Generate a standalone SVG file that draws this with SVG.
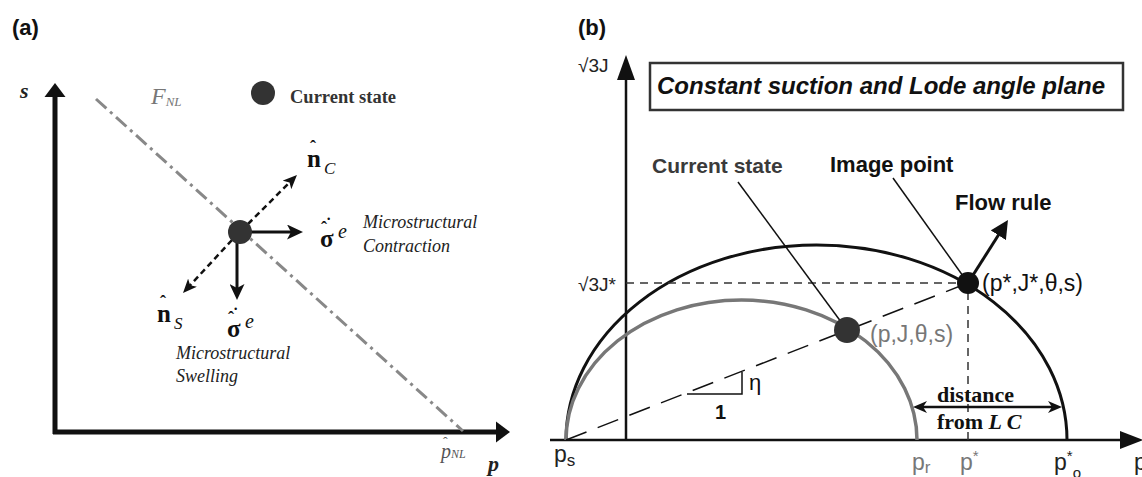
<svg xmlns="http://www.w3.org/2000/svg" width="1142" height="477" viewBox="0 0 1142 477">
<style>
.serif{font-family:"Liberation Serif","Times New Roman",serif}
.sans{font-family:"Liberation Sans",Arial,sans-serif}
.title{font-family:"Liberation Sans",Arial,sans-serif;font-weight:bold;font-size:22px;fill:#111}
.ital{font-style:italic}
.bold{font-weight:bold}
.lead{stroke:#111;stroke-width:1.5;fill:none}
</style>
<defs>
<marker id="mA" markerUnits="userSpaceOnUse" markerWidth="16" markerHeight="15" refX="6" refY="7.5" orient="auto"><path d="M0,0 L16,7.5 L0,15 L4,7.5 z" fill="#111"/></marker>
<marker id="mD" markerUnits="userSpaceOnUse" markerWidth="14" markerHeight="12" refX="5" refY="6" orient="auto"><path d="M0,0 L14,6 L0,12 L3.5,6 z" fill="#111"/></marker>
<marker id="mB" markerUnits="userSpaceOnUse" markerWidth="14" markerHeight="12" refX="6" refY="6" orient="auto-start-reverse"><path d="M0,0 L14,6 L0,12 L4,6 z" fill="#111"/></marker>
<marker id="mF" markerUnits="userSpaceOnUse" markerWidth="18" markerHeight="18" refX="8" refY="9" orient="auto"><path d="M0,0 L18,9 L0,18 z" fill="#111"/></marker>
</defs>
<rect width="1142" height="477" fill="#fff"/>

<!-- Panel (a) -->
<text class="title" x="12" y="35">(a)</text>
<g id="a-axes">
<line x1="55" y1="434" x2="55" y2="96" stroke="#111" stroke-width="5"/>
<polygon points="55,83 44.5,97 65.5,97" fill="#111"/>
<line x1="53" y1="432" x2="497" y2="432" stroke="#111" stroke-width="5"/>
<polygon points="510,432 496,421.5 496,442.5" fill="#111"/>
<text class="serif ital bold" x="20" y="98" font-size="22" fill="#222">s</text>
<text class="serif ital bold" x="488" y="471" font-size="22" fill="#222">p</text>
</g>
<g id="a-FNL">
<line x1="96" y1="99" x2="463" y2="431" stroke="#888" stroke-width="3" stroke-dasharray="14 5 3 5"/>
<text class="serif ital" x="151" y="104" font-size="24" fill="#777">F<tspan font-size="13" dy="2">NL</tspan></text>
<text class="serif ital" x="441" y="458" font-size="20" fill="#555">p<tspan font-size="12">NL</tspan></text>
<text class="serif" x="443" y="447" font-size="14" fill="#555">ˆ</text>
</g>
<g id="a-legend">
<circle cx="263" cy="93" r="12" fill="#333"/>
<text class="serif bold" x="290" y="103" font-size="18.5" fill="#333">Current state</text>
</g>
<g id="a-connectors">
<line x1="248" y1="224" x2="290.6" y2="181.4" stroke="#111" stroke-width="2.5" stroke-dasharray="6 4" marker-end="url(#mD)"/>
<line x1="232" y1="240" x2="189.1" y2="286.4" stroke="#111" stroke-width="2.5" stroke-dasharray="6 4" marker-end="url(#mD)"/>
<line x1="250" y1="232" x2="293" y2="232" stroke="#111" stroke-width="3" marker-end="url(#mA)"/>
<line x1="237" y1="242" x2="237" y2="290" stroke="#111" stroke-width="3" marker-end="url(#mA)"/>
</g>
<g id="a-state">
<circle cx="240" cy="232" r="12" fill="#333"/>
</g>
<g id="a-labels" fill="#111">
<text class="serif bold" x="307" y="167" font-size="25">n</text>
<text class="serif bold" x="310" y="153" font-size="18">ˆ</text>
<text class="serif ital" x="324" y="174" font-size="17">C</text>
<text class="serif bold" x="157" y="322" font-size="25">n</text>
<text class="serif bold" x="160" y="308" font-size="18">ˆ</text>
<text class="serif ital" x="174" y="329" font-size="17">S</text>
<text class="serif bold" x="320" y="247" font-size="25">σ</text>
<text class="serif bold" x="321" y="234" font-size="18">ˆ</text>
<text class="serif bold" x="326" y="229" font-size="16">˙</text>
<text class="serif ital" x="338" y="238" font-size="20">e</text>
<text class="serif bold" x="227" y="337" font-size="25">σ</text>
<text class="serif bold" x="228" y="324" font-size="18">ˆ</text>
<text class="serif bold" x="233" y="319" font-size="16">˙</text>
<text class="serif ital" x="245" y="328" font-size="20">e</text>
<text class="serif ital" x="363" y="228" font-size="18" fill="#222">Microstructural</text>
<text class="serif ital" x="363" y="252" font-size="18" fill="#222">Contraction</text>
<text class="serif ital" x="176" y="359" font-size="18" fill="#222">Microstructural</text>
<text class="serif ital" x="176" y="382" font-size="18" fill="#222">Swelling</text>
</g>

<!-- Panel (b) -->
<text class="title" x="578" y="35">(b)</text>
<g id="b-box">
<rect x="650" y="63" width="473" height="47" fill="#fff" stroke="#333" stroke-width="2.5"/>
<text class="sans ital bold" x="657" y="94" font-size="24" fill="#111">Constant suction and Lode angle plane</text>
</g>
<g id="b-axes">
<line x1="626" y1="441" x2="626" y2="78" stroke="#111" stroke-width="2.5"/>
<polygon points="626,55 617,80 635,80" fill="#111"/>
<line x1="550" y1="440" x2="1122" y2="440" stroke="#111" stroke-width="2.5"/>
<polygon points="1143,440 1120,431 1120,449" fill="#111"/>
<text class="sans" x="578" y="72" font-size="19" fill="#222">√3J</text>
<text class="sans" x="578" y="291" font-size="19" fill="#222">√3J*</text>
</g>
<g id="b-curves">
<path d="M566,440 A250.5,195 0 0 1 1067,440" fill="none" stroke="#111" stroke-width="3"/>
<path d="M566,440 A175.5,140 0 0 1 917,440" fill="none" stroke="#777" stroke-width="3.5"/>
</g>
<g id="b-connectors">
<line x1="566" y1="440" x2="968" y2="283" stroke="#111" stroke-width="1.5" stroke-dasharray="22 12"/>
<polyline points="687,394 742,394 742,372" class="lead"/>
<line x1="626" y1="283" x2="960" y2="283" stroke="#333" stroke-width="1.5" stroke-dasharray="8 6"/>
<line x1="968" y1="292" x2="968" y2="440" stroke="#333" stroke-width="1.5" stroke-dasharray="8 6"/>
<line x1="738" y1="182" x2="847" y2="330" class="lead"/>
<line x1="893" y1="178" x2="968" y2="283" class="lead"/>
<line x1="968" y1="283" x2="1002.6" y2="228.5" stroke="#111" stroke-width="3" marker-end="url(#mF)"/>
<line x1="921" y1="407" x2="1054" y2="407" stroke="#111" stroke-width="2.5" marker-start="url(#mB)" marker-end="url(#mB)"/>
</g>
<g id="b-current">
<circle cx="847" cy="330" r="13" fill="#333"/>
<text class="sans bold" x="652" y="173" font-size="21" fill="#3a3a3a">Current state</text>
<text class="sans" x="870" y="342" font-size="23" fill="#777">(p,J,θ,s)</text>
</g>
<g id="b-image">
<circle cx="968" cy="283" r="11" fill="#111"/>
<text class="sans bold" x="830" y="172" font-size="22" fill="#111">Image point</text>
<text class="sans" x="982" y="291" font-size="23" fill="#111">(p*,J*,θ,s)</text>
</g>
<g id="b-flow">
<text class="sans bold" x="955" y="210" font-size="22" fill="#111">Flow rule</text>
</g>
<g id="b-labels">
<text class="sans" x="749" y="390" font-size="22" fill="#111">η</text>
<text class="sans bold" x="715" y="419" font-size="20" fill="#111">1</text>
<text class="serif bold" x="937" y="402" font-size="22" fill="#111">distance</text>
<text class="serif bold" x="937" y="429" font-size="22" fill="#111">from <tspan font-style="italic">L C</tspan></text>
<text class="sans" x="554" y="462" font-size="23" fill="#222">p<tspan font-size="17" dy="4">s</tspan></text>
<text class="sans" x="912" y="470" font-size="23" fill="#777">p<tspan font-size="17" dy="3">r</tspan></text>
<text class="sans" x="960" y="470" font-size="23" fill="#777">p<tspan font-size="15" dy="-9">*</tspan></text>
<text class="sans" x="1054" y="470" font-size="23" fill="#222">p<tspan font-size="15" dy="-9">*</tspan><tspan font-size="15" dy="17">o</tspan></text>
<text class="sans" x="1134" y="470" font-size="23" fill="#222">p</text>
</g>
</svg>
